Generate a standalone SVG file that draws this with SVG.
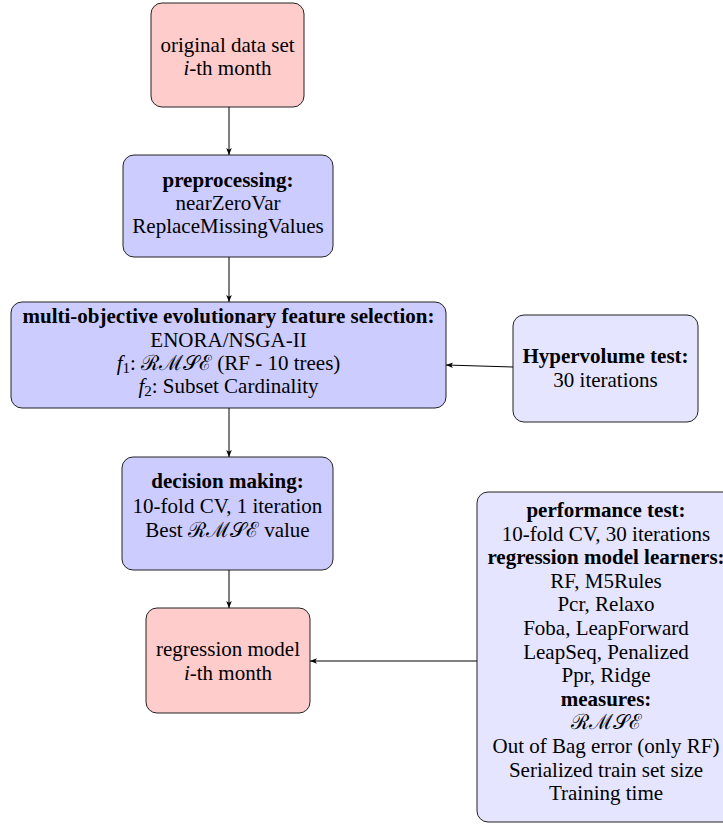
<svg xmlns="http://www.w3.org/2000/svg" width="723" height="834" viewBox="0 0 723 834">
<defs>
<marker id="ah" viewBox="0 0 10 10" refX="10" refY="5" markerWidth="7" markerHeight="7" orient="auto" markerUnits="userSpaceOnUse">
<path d="M0,1 L10,5 L0,9 L2.5,5 Z" fill="#000"/>
</marker>
</defs>
<style>
.box{stroke:#222;stroke-width:1}
.pink{fill:#ffcccc}
.blue{fill:#ccccff}
.light{fill:#e5e5ff}
text{font-family:"Liberation Serif","Times New Roman",serif;font-size:21px;fill:#000;text-anchor:middle}
.b{font-weight:bold}
.i{font-style:italic}
.edge{stroke:#000;stroke-width:1;fill:none;marker-end:url(#ah)}
</style>
<g id="n1">
<rect class="box pink" x="151" y="3" width="153" height="104" rx="11"/>
<text x="227.5" y="52">original data set</text>
<text x="227.5" y="75"><tspan class="i">i</tspan>-th month</text>
</g>
<g id="n2">
<rect class="box blue" x="123" y="155" width="210" height="102" rx="11"/>
<text class="b" x="228" y="187">preprocessing:</text>
<text x="228" y="210">nearZeroVar</text>
<text x="228" y="233">ReplaceMissingValues</text>
</g>
<g id="n3">
<rect class="box blue" x="11" y="302" width="435" height="106" rx="11"/>
<text class="b" x="228.5" y="323">multi-objective evolutionary feature selection:</text>
<text x="228.5" y="346.5">ENORA/NSGA-II</text>
<text x="228.5" y="370"><tspan class="i">f</tspan><tspan font-size="15" dy="3">1</tspan><tspan dy="-3">:  ℛℳ𝒮ℰ (RF - 10 trees)</tspan></text>
<text x="228.5" y="393"><tspan class="i">f</tspan><tspan font-size="15" dy="3">2</tspan><tspan dy="-3">: Subset Cardinality</tspan></text>
</g>
<g id="n4">
<rect class="box light" x="513" y="315" width="185" height="107" rx="11"/>
<text class="b" x="605.5" y="363">Hypervolume test:</text>
<text x="605.5" y="387">30 iterations</text>
</g>
<g id="n5">
<rect class="box blue" x="122" y="457" width="211" height="113" rx="11"/>
<text class="b" x="227.5" y="488">decision making:</text>
<text x="227.5" y="512.5">10-fold CV, 1 iteration</text>
<text x="227.5" y="537">Best ℛℳ𝒮ℰ value</text>
</g>
<g id="n6">
<rect class="box pink" x="146" y="608" width="164" height="105" rx="11"/>
<text x="228" y="656">regression model</text>
<text x="228" y="680"><tspan class="i">i</tspan>-th month</text>
</g>
<g id="n7">
<rect class="box light" x="477" y="492" width="258" height="330" rx="11"/>
<text class="b" x="606" y="517">performance test:</text>
<text x="606" y="540.6">10-fold CV, 30 iterations</text>
<text class="b" x="606" y="564.2">regression model learners:</text>
<text x="606" y="587.8">RF, M5Rules</text>
<text x="606" y="611.4">Pcr, Relaxo</text>
<text x="606" y="635">Foba, LeapForward</text>
<text x="606" y="658.6">LeapSeq, Penalized</text>
<text x="606" y="682.2">Ppr, Ridge</text>
<text class="b" x="606" y="705.8">measures:</text>
<text x="606" y="729.4">ℛℳ𝒮ℰ</text>
<text x="606" y="753">Out of Bag error (only RF)</text>
<text x="606" y="776.6">Serialized train set size</text>
<text x="606" y="800.2">Training time</text>
</g>
<g id="edges">
<line class="edge" x1="229" y1="107" x2="229" y2="155"/>
<line class="edge" x1="229" y1="257" x2="229" y2="302"/>
<line class="edge" x1="229" y1="408" x2="229" y2="457"/>
<line class="edge" x1="229" y1="570" x2="229" y2="608"/>
<line class="edge" x1="513" y1="367" x2="446" y2="365"/>
<line class="edge" x1="477" y1="661" x2="310" y2="661"/>
</g>
</svg>
